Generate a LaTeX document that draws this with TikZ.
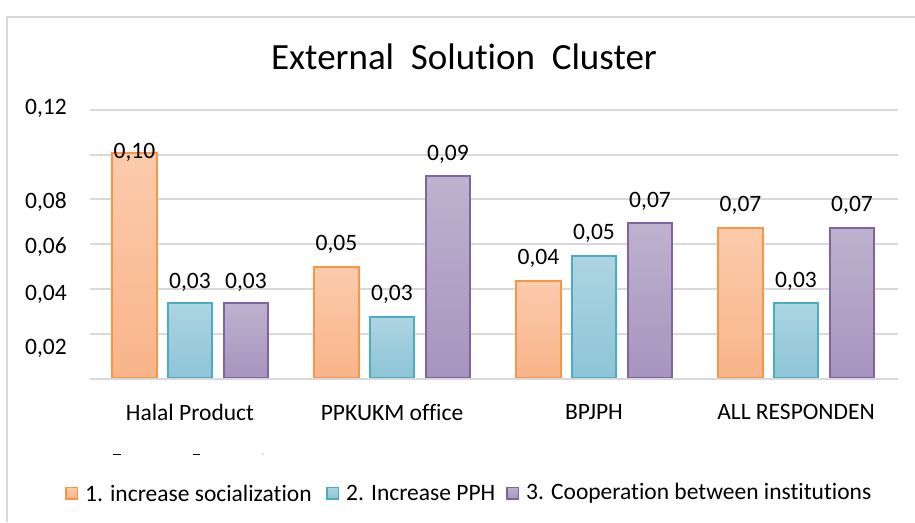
\documentclass[tikz,border=0pt]{standalone}
\usepackage{fontspec}
\setmainfont{Carlito}[Ligatures={NoCommon}]
\newcommand\tiNL{t\kern0pt i}
\definecolor{oT}{HTML}{FBCBAB}
\definecolor{oB}{HTML}{F9B48A}
\definecolor{oL}{HTML}{F79646}
\definecolor{bT}{HTML}{ADD4E1}
\definecolor{bB}{HTML}{8DC5D7}
\definecolor{bL}{HTML}{4BACC6}
\definecolor{pT}{HTML}{BDB2CE}
\definecolor{pB}{HTML}{A794BE}
\definecolor{pL}{HTML}{8064A2}
\definecolor{gridc}{HTML}{D9D9D9}
\definecolor{framec}{HTML}{D9D9D9}
\tikzset{
  barO/.style={draw=oL, top color=oT, bottom color=oB},
  barB/.style={draw=bL, top color=bT, bottom color=bB},
  barP/.style={draw=pL, top color=pT, bottom color=pB},
  chartbar/.style={line width=1.6pt, inner sep=0pt, minimum width=44.5pt, anchor=south},
  small/.style={font=\fontsize{23.5}{26}\selectfont, inner sep=0pt},
  gridline/.style={draw=gridc, line width=1.5pt},
  legsq/.style={line width=1.5pt, inner sep=0pt, minimum width=11.5pt, minimum height=11.5pt}
}
\begin{document}
\begin{tikzpicture}[x=1pt,y=-1pt]
\useasboundingbox (0,0) rectangle (915,522);
\fill[white] (0,0) rectangle (915,522);
% frame
\draw[framec, line width=1.5pt] (7,522) -- (7,17) -- (915,17);
% title
\node[font=\fontsize{37}{40}\selectfont, inner sep=0pt] (title) at (464,57) {External\ \ Solu\tiNL on\ \ Cluster};
% grid
\foreach \gy in {110,155,199,244,289,334,379}
  \draw[gridline] (90,\gy) -- (898,\gy);
% axis labels
\node[small, anchor=east] (y12) at (67,108) {0,12};
\node[small, anchor=east] (y08) at (67,202) {0,08};
\node[small, anchor=east] (y06) at (67,247) {0,06};
\node[small, anchor=east] (y04) at (67,294) {0,04};
\node[small, anchor=east] (y02) at (67,348) {0,02};
% bars
\foreach \nm/\x/\tp/\st/\lab/\ly in {
  h1/134.5/154/O/{0,10}/152, h2/190/304/B/{0,03}/282, h3/246/304/P/{0,03}/282,
  p1/336.5/268/O/{0,05}/244, p2/392/318/B/{0,03}/294, p3/448/177/P/{0,09}/154,
  b1/538.5/282/O/{0,04}/258, b2/594/257/B/{0,05}/233, b3/650/224/P/{0,07}/201,
  a1/740.5/229/O/{0,07}/205, a2/796/304/B/{0,03}/281, a3/852/229/P/{0,07}/205}
{
  \node[chartbar, bar\st, minimum height={379-\tp-0.75}] (\nm) at (\x,378.25) {};
  \node[small] (\nm-l) at (\x,\ly) {\lab};
}
% categories
\node[small] (c1) at (190,412) {Halal Product};
\node[small] (c2) at (392,412) {PPKUKM office};
\node[small] (c3) at (594,412) {BPJPH};
\node[small] (c4) at (796,412) {ALL RESPONDEN};
% clipped fragments
\draw[line width=1pt] (113,454) -- (121,454);
\draw[line width=1pt] (193,454) -- (200,454);
\fill[gray] (263,454) circle (0.6);
% legend
\node[legsq, barO] (lo) at (71.5,493) {};
\node[small, anchor=west] (lot) at (85,493) {1. increase socialization};
\node[legsq, barB] (lb) at (332.5,493) {};
\node[small, anchor=west] (lbt) at (346,493) {2. Increase PPH};
\node[legsq, barP] (lp) at (512.5,493) {};
\node[small, anchor=west] (lpt) at (526,493) {3. Coopera\tiNL on between ins\tiNL tu\tiNL ons};
\end{tikzpicture}
\end{document}
